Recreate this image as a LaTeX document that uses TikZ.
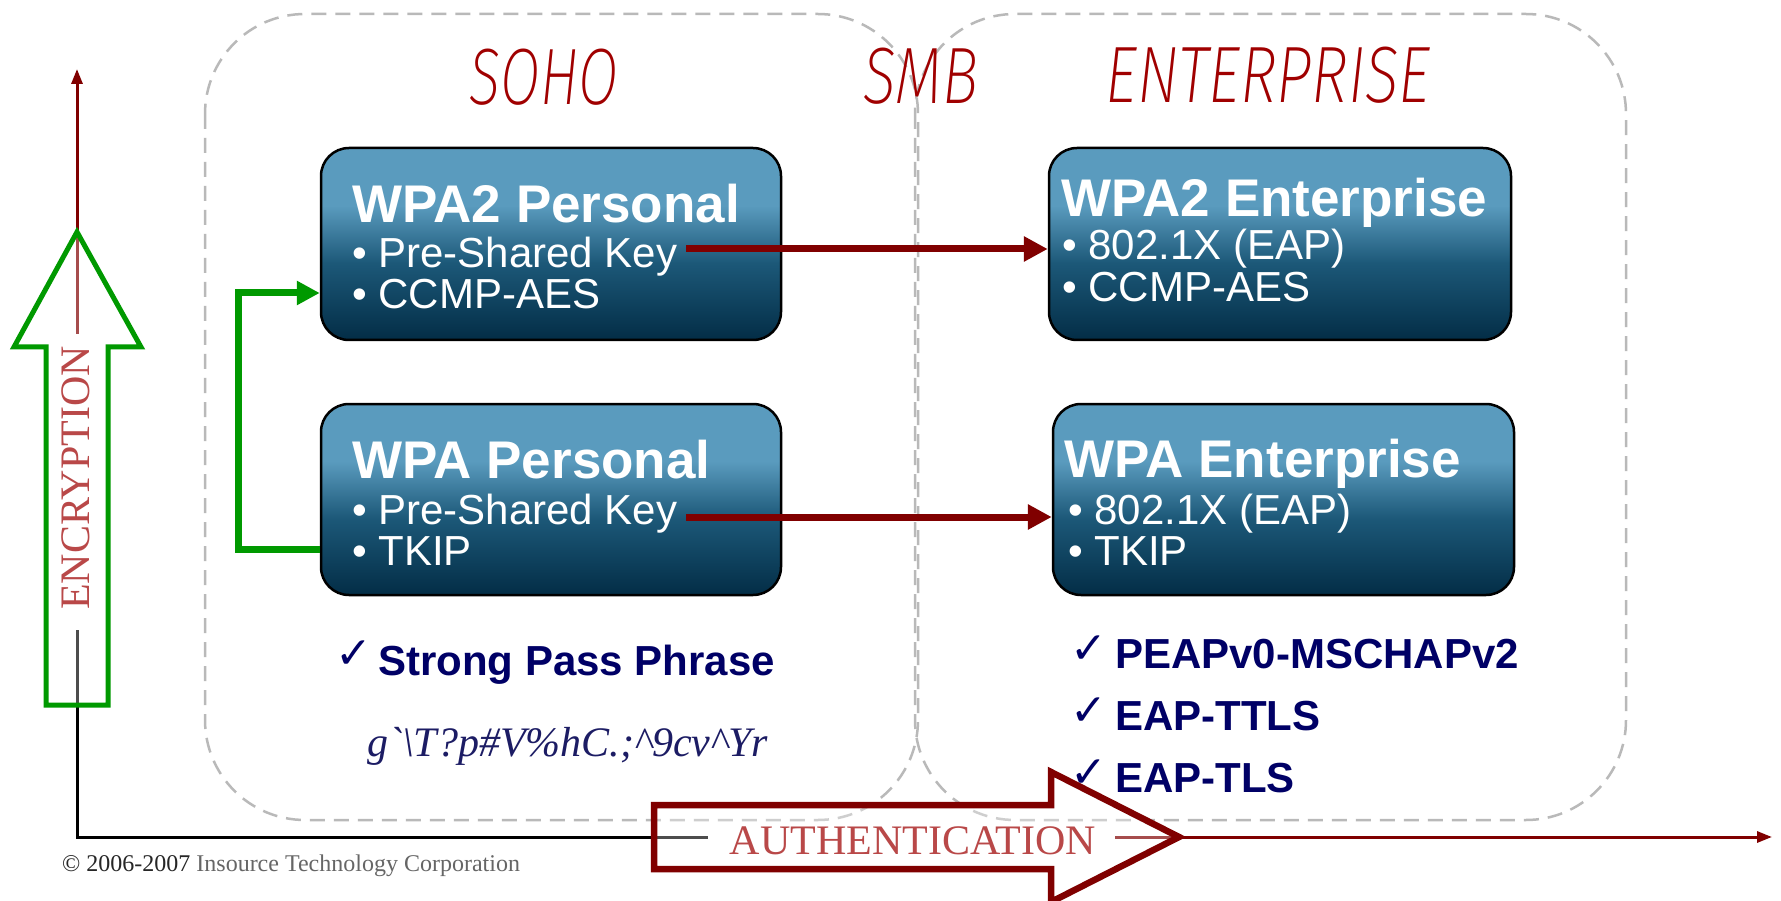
\documentclass[tikz,border=0pt]{standalone}
\usepackage{fontspec}
\setmainfont{Liberation Serif}
\newfontfamily\arialf{Liberation Sans}
\newfontfamily\symf{DejaVu Sans}
\newfontfamily\thinf{Fira Sans ExtraLight Italic}
\usetikzlibrary{arrows.meta}
\definecolor{dred}{RGB}{128,0,0}
\definecolor{tred}{RGB}{160,0,0}
\definecolor{lred}{RGB}{185,72,72}
\definecolor{grn}{RGB}{0,153,0}
\definecolor{navy}{RGB}{0,0,102}
\definecolor{pwc}{RGB}{28,28,100}
\definecolor{dashc}{RGB}{185,185,185}
\definecolor{btop}{RGB}{90,155,190}
\definecolor{bm1}{RGB}{28,88,120}
\definecolor{bbot}{RGB}{3,45,70}
\pgfdeclareverticalshading{boxsh}{100bp}{color(0bp)=(bbot); color(25bp)=(bbot); color(45bp)=(bm1); color(60bp)=(btop); color(100bp)=(btop)}
\begin{document}
\begin{tikzpicture}[x=1pt,y=-1pt,
  zone/.style={draw=dashc, line width=2.5pt, dash pattern=on 15pt off 9pt, rounded corners=100pt},
  scr/.style={anchor=base, inner sep=0pt, text=tred, font=\thinf\fontsize{80}{82}\selectfont},
  wbox/.style={draw=black, line width=2.5pt, rounded corners=28pt, shade, shading=boxsh, inner sep=0pt},
  ttl/.style={anchor=base west, inner sep=0pt, text=white, font=\arialf\bfseries\fontsize{53}{60}\selectfont},
  bul/.style={anchor=base west, inner sep=0pt, text=white, font=\arialf\fontsize{42}{48}\selectfont},
  chk/.style={anchor=base west, inner sep=0pt, text=navy, font=\symf\fontsize{44}{48}\selectfont},
  lst/.style={anchor=base west, inner sep=0pt, text=navy, font=\arialf\bfseries\fontsize{42}{48}\selectfont},
  redcon/.style={draw=dred, line width=7pt, -{Triangle[length=24pt,width=24pt]}},
  grcon/.style={draw=grn, line width=7pt, line join=miter, -{Triangle[length=23pt,width=23pt]}},
  axk/.style={draw=black, line width=3pt},
  axr/.style={draw=dred, line width=3pt, -{Triangle[length=15pt,width=11pt]}},
  bigarrow/.style={line width=#1, line join=miter, fill=white, fill opacity=0.3, draw opacity=1},
  axlabel/.style={inner sep=0pt, text=lred, font=\fontsize{42}{48}\selectfont}
]
\useasboundingbox (0,0) rectangle (1781,901);
\fill[white] (0,0) rectangle (1781,901);

% zones
\draw[zone] (205,14) rectangle (918,820);
\draw[zone] (915,14) rectangle (1626,820);

% zone titles
\node[scr, xscale=0.72] (soho) at (544,105) {SOHO};
\node[scr, xscale=0.76] (smb) at (921,104) {SMB};
\node[scr, xscale=0.78] (ent) at (1268,103) {ENTERPRISE};

% boxes
\node[wbox, minimum width=460pt, minimum height=192pt] (wpa2p) at (551,244) {};
\node[wbox, minimum width=460pt, minimum height=191pt] (wpap) at (551,499.5) {};
\node[wbox, minimum width=462pt, minimum height=192pt] (wpa2e) at (1280,244) {};
\node[wbox, minimum width=461pt, minimum height=191pt] (wpae) at (1283.5,499.5) {};

% box texts
\node[ttl] (t1) at (352,223) {WPA2 Personal};
\node[bul] (t1a) at (352,268) {• Pre-Shared Key};
\node[bul] (t1b) at (352,309) {• CCMP-AES};
\node[ttl] (t2) at (352,478) {WPA Personal};
\node[bul] (t2a) at (352,524) {• Pre-Shared Key};
\node[bul] (t2b) at (352,565) {• TKIP};
\node[ttl] (t3) at (1061,217) {WPA2 Enterprise};
\node[bul] (t3a) at (1062,260) {• 802.1X (EAP)};
\node[bul] (t3b) at (1062,302) {• CCMP-AES};
\node[ttl] (t4) at (1064,477) {WPA Enterprise};
\node[bul] (t4a) at (1068,524) {• 802.1X (EAP)};
\node[bul] (t4b) at (1068,565) {• TKIP};

% red connectors
\coordinate (k1) at (686,249);
\coordinate (k2) at (686,517);
\draw[redcon] (k1) -- (wpa2e.west |- k1);
\draw[redcon] (k2) -- (wpae.west |- k2);

% green connector
\coordinate (g1) at (238,549);
\coordinate (g2) at (238,293);
\draw[grcon] (wpap.west |- g1) -- (g1) -- (g2) -- (wpa2p.west |- g2);

% check lists
\node[chk] (c1) at (335,668) {✓};
\node[lst] (l1) at (378,675) {Strong Pass Phrase};
\node[anchor=base west, inner sep=0pt, text=pwc, font=\itshape\fontsize{42}{48}\selectfont] (pw) at (367,756) {g\textasciigrave\textbackslash T?p\#V\%hC.;\textasciicircum 9cv\textasciicircum Yr};
\node[chk] (c2) at (1070,663) {✓};
\node[lst] (l2) at (1115,668) {PEAPv0-MSCHAPv2};
\node[chk] (c3) at (1070,725) {✓};
\node[lst] (l3) at (1115,730) {EAP-TTLS};
\node[chk] (c4) at (1070,787) {✓};
\node[lst] (l4) at (1115,792) {EAP-TLS};

% axes
\coordinate (o) at (77,837);
\coordinate (ye) at (77,630);
\coordinate (xs) at (708,837);
\coordinate (yr) at (77,334);
\coordinate (ytop) at (77,69);
\coordinate (xr) at (1115,837);
\coordinate (xend) at (1772,837);
\draw[axk] (ye) -- (o) -- (xs);
\draw[axr] (yr) -- (ytop);
\draw[axr] (xr) -- (xend);

% big arrows
\draw[bigarrow=5pt, draw=grn] (77,232) -- (141,347) -- (108,347) -- (108,705) -- (46,705) -- (46,347) -- (14,347) -- cycle;
\draw[bigarrow=6.5pt, draw=dred] (654,805) -- (1051,805) -- (1051,772) -- (1179,837) -- (1051,902) -- (1051,869) -- (654,869) -- cycle;

\node[axlabel, rotate=90] (enc) at (76,478) {ENCRYPTION};
\node[axlabel, anchor=base] (auth) at (913,854) {AUTHENTICATION};

% copyright
\node[anchor=base west, inner sep=0pt, font=\fontsize{24}{28}\selectfont] (copy) at (62,871) {\textcolor{black!85}{© 2006-2007} \textcolor{black!60}{Insource Technology Corporation}};
\end{tikzpicture}
\end{document}
